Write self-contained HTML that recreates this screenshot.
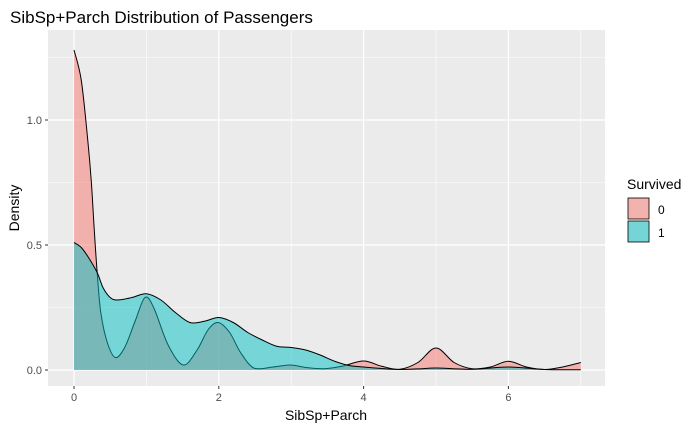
<!DOCTYPE html>
<html><head><meta charset="utf-8"><style>
body{margin:0;background:#fff;font-family:"Liberation Sans",sans-serif}
</style></head><body>
<svg id="c" width="698" height="431" xmlns="http://www.w3.org/2000/svg" style="font-family:'Liberation Sans',sans-serif">
<text x="10" y="23" font-size="17" fill="#000">SibSp+Parch Distribution of Passengers</text>
<rect x="48" y="30" width="557" height="356" fill="#EBEBEB"/>
<g id="grid"></g>
<g id="marks"></g>
<g id="axes"></g>
<text x="326" y="420" font-size="14" text-anchor="middle" fill="#000">SibSp+Parch</text>
<text transform="translate(19,208) rotate(-90)" font-size="14" text-anchor="middle" fill="#000">Density</text>
<g>
<text x="627" y="189" font-size="14" fill="#000">Survived</text>
<g>
<rect x="628" y="198" width="21" height="21" fill="#F2B2AD" stroke="#000" stroke-width="0.8"/>
<text x="658" y="214" font-size="12" fill="#000">0</text></g>
<g>
<rect x="628" y="221" width="21" height="21" fill="#75D5D6" stroke="#000" stroke-width="0.8"/>
<text x="658" y="237" font-size="12" fill="#000">1</text></g>
</g>
</svg>
<script>
const xs0=[0,0.1,0.19,0.24,0.28,0.32,0.37,0.46,0.57,0.7,0.85,0.98,1.1,1.3,1.51,1.7,1.85,1.99,2.15,2.3,2.49,2.75,2.99,3.2,3.45,3.7,4.0,4.25,4.5,4.75,5.0,5.25,5.5,5.75,6.0,6.25,6.5,6.75,7.0];
const ys0=[1.28,1.16,0.92,0.75,0.56,0.39,0.23,0.11,0.05,0.09,0.2,0.29,0.25,0.1,0.02,0.08,0.16,0.19,0.15,0.07,0.007,0.012,0.02,0.01,0.005,0.015,0.036,0.015,0.003,0.03,0.088,0.03,0.005,0.012,0.035,0.012,0.002,0.012,0.03];
const xs1=[0,0.1,0.2,0.32,0.4,0.5,0.6,0.8,1.0,1.2,1.4,1.6,1.8,2.0,2.2,2.4,2.6,2.8,3.0,3.2,3.4,3.6,3.8,4.0,4.3,4.5,4.8,5.0,5.5,6.0,6.5,7.0];
const ys1=[0.51,0.49,0.45,0.39,0.33,0.29,0.28,0.29,0.305,0.28,0.23,0.19,0.195,0.21,0.19,0.15,0.12,0.095,0.09,0.08,0.06,0.035,0.018,0.012,0.005,0.002,0.005,0.008,0.003,0.012,0.002,0.001];
const xTicks=[0,2,4,6], yTicks=[0,0.5,1.0], yTickLabels=["0.0","0.5","1.0"];
const xMinor=[1,3,5,7], yMinor=[0.25,0.75,1.25];
const X=v=>74+v*72.4, Y=v=>370-v*250;
const NS="http://www.w3.org/2000/svg";
function mk(p,t,a){const e=document.createElementNS(NS,t);for(const k in a)e.setAttribute(k,a[k]);p.appendChild(e);return e;}
const grid=document.getElementById('grid'),axes=document.getElementById('axes'),marks=document.getElementById('marks');
xMinor.forEach(v=>{const l=mk(grid,'line',{x1:X(v),x2:X(v),y1:30,y2:386,stroke:'#fff','stroke-width':0.6});
});
yMinor.forEach(v=>{const l=mk(grid,'line',{x1:48,x2:605,y1:Y(v),y2:Y(v),stroke:'#fff','stroke-width':0.6});
});
xTicks.forEach(v=>{const l=mk(grid,'line',{x1:X(v),x2:X(v),y1:30,y2:386,stroke:'#fff','stroke-width':1.2});

const t=mk(axes,'line',{x1:X(v),x2:X(v),y1:386,y2:389,stroke:'#333','stroke-width':1});

const s=mk(axes,'text',{x:X(v),y:401,'font-size':11,'text-anchor':'middle',fill:'#4D4D4D'});s.textContent=v;
});
yTicks.forEach((v,i)=>{const l=mk(grid,'line',{x1:48,x2:605,y1:Y(v),y2:Y(v),stroke:'#fff','stroke-width':1.2});

const t=mk(axes,'line',{x1:45,x2:48,y1:Y(v),y2:Y(v),stroke:'#333','stroke-width':1});

const s=mk(axes,'text',{x:42,y:Y(v)+4,'font-size':11,'text-anchor':'end',fill:'#4D4D4D'});s.textContent=yTickLabels[i];
});
function curve(xs,ys){const p=xs.map((x,i)=>[X(x),Y(ys[i])]);let d='M'+p[0][0]+','+p[0][1];
for(let i=0;i<p.length-1;i++){const a=p[i-1]||p[i],b=p[i],c=p[i+1],e=p[i+2]||c;
let c1y=b[1]+(c[1]-a[1])/6,c2y=c[1]-(e[1]-b[1])/6;
const lo=Math.max(b[1],c[1])+0, base=370; c1y=Math.min(c1y,base);c2y=Math.min(c2y,base);
d+=' C'+(b[0]+(c[0]-a[0])/6)+','+c1y+' '+(c[0]-(e[0]-b[0])/6)+','+c2y+' '+c[0]+','+c[1];}
return d;}
function area(xs,ys,fill,name){const c=curve(xs,ys);
const a=mk(marks,'path',{d:c+' L'+X(xs[xs.length-1])+','+Y(0)+' L'+X(xs[0])+','+Y(0)+' Z',fill:fill,'fill-opacity':0.5,stroke:'none'});

const l=mk(marks,'path',{d:c,fill:'none',stroke:'#000','stroke-width':1});
}
area(xs0,ys0,'#F8766D','density-survived-0');
area(xs1,ys1,'#00BFC4','density-survived-1');
</script>
</body></html>
